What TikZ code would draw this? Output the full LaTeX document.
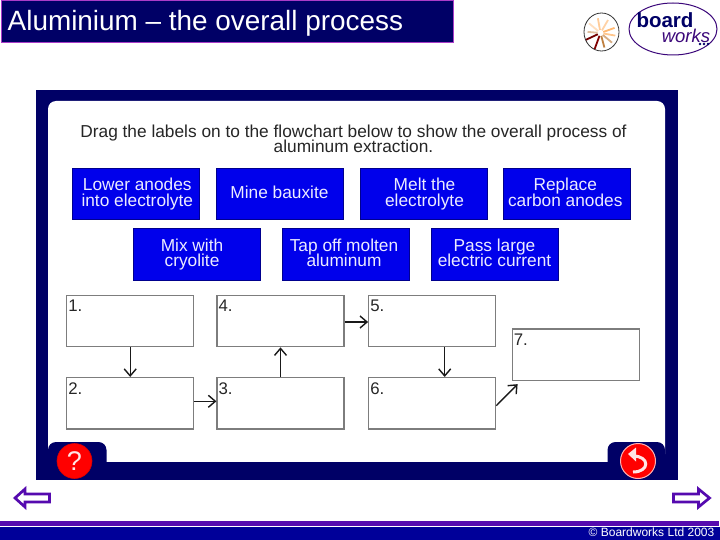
\documentclass[tikz,border=0pt]{standalone}
\usepackage{fontspec}
\setmainfont{Liberation Sans}
\usetikzlibrary{arrows.meta,calc}
\definecolor{navy1}{RGB}{0,0,102}
\definecolor{blue1}{RGB}{0,0,153}
\definecolor{purp}{RGB}{85,10,175}
\definecolor{mag}{RGB}{170,60,200}
\definecolor{btn}{RGB}{0,0,235}
\definecolor{gbox}{RGB}{125,125,125}
\newcommand{\lst}{\rule[-3.9pt]{0pt}{16.7pt}}
\AtBeginDocument{\lineskiplimit=-20pt\normallineskiplimit=-20pt\relax}
\tikzset{
 lbl/.style={draw=navy1!70!btn,line width=0.6pt,fill=btn,text=white!92!blue,minimum width=127pt,minimum height=51.5pt,inner sep=0pt,align=center,font=\fontsize{17.3}{15.3}\selectfont},
 slot/.style={draw=gbox,line width=1.2pt,fill=white,minimum width=127pt,minimum height=51.5pt,inner sep=0pt},
 slotnum/.style={inner sep=0pt,anchor=north west,font=\fontsize{16.8}{18}\selectfont,text=black!85},
 flow/.style={line width=1.4pt,black!90,-{Straight Barb[length=7pt,width=12pt,line width=1.4pt]}},
 navarrow/.style={draw=purp,line width=2.7pt,fill=white,miter limit=6},
}
\begin{document}
\begin{tikzpicture}[x=1pt,y=-1pt]
\useasboundingbox (0,0) rectangle (720,540);
\fill[white] (0,0) rectangle (720,540);
% title bar
\node[name=titlebar,draw=mag,line width=1pt,fill=navy1,minimum width=452.5pt,minimum height=41.5pt,inner sep=0pt,anchor=north west] at (0.5,0.5) {};
\node[name=titletext,anchor=base west,inner sep=0pt,text=white,font=\fontsize{27.9}{30}\selectfont] at (7.5,31) {Aluminium -- the overall process};
% logo
\draw[black!80,line width=0.8pt,fill=white] (601.5,32) ellipse (17.5pt and 19pt);
\foreach \a/\c/\l in {20/orange!55/12,60/orange!35/12,100/orange!40/12,140/orange!25/12,175/brown!50/10,205/red!45!black/13,250/red!50!black/14,285/brown/12,320/brown!65/12,350/orange!45/12}{
 \draw[\c,line width=1.8pt] (600.5,33) ++(\a:3pt) -- ++(\a:\l pt);
}
\draw[purp!70!black,line width=1pt] (673,29) ellipse (44pt and 26pt);
\node[name=logoa,anchor=base,inner sep=0pt,text=navy1,font=\fontsize{20.5}{20}\bfseries\selectfont] at (665,27.8) {board};
\node[name=logob,anchor=base,inner sep=0pt,text=purp!70!black,font=\fontsize{18.5}{20}\itshape\selectfont] at (686,42.5) {works};
\foreach \x in {700,704,708} \fill[navy1] (\x,44) circle (1.4pt);
% panel
\fill[navy1] (36,90) rectangle (678,480);
\fill[white,rounded corners=8pt] (48,101) rectangle (665,462);
% tabs
\fill[navy1] (36,462) rectangle (678,480);
\fill[navy1,rounded corners=8pt] (48,475) -- (48,442) -- (106.5,442) -- (106.5,475) -- cycle;
\fill[navy1,rounded corners=8pt] (607.5,475) -- (607.5,442) -- (665,442) -- (665,475) -- cycle;
\node[name=helpbtn,circle,fill=red,draw=red!85!black,line width=0.6pt,minimum size=35pt,inner sep=0pt,text=white!90!red,font=\fontsize{27}{27}\selectfont] at (74.5,461) {?};
\node[name=backbtn,circle,fill=red,draw=white!70!red,line width=1pt,minimum size=35pt,inner sep=0pt] at (638,461) {};
\draw[white!90!red,line width=3pt] (633,456) .. controls (650,456) and (650,472) .. (633,472);
\fill[white!90!red] (628,454) -- (636,447.5) -- (636,461.5) -- cycle;
% instruction
\node[name=instr,align=center,inner sep=0pt,text=black!85,font=\fontsize{17.3}{15}\selectfont] at (353.5,138.5) {Drag the labels on to the flowchart below to show the overall process of\\aluminum extraction.};
% labels
\node[lbl,name=l1] at (135.8,194) {\lst\hspace*{3pt}Lower anodes\\\lst\hspace*{3pt}into electrolyte};
\node[lbl,name=l2] at (279.5,194) {\lst Mine bauxite};
\node[lbl,name=l3] at (423.5,194) {\lst\hspace*{2pt}Melt the\\\lst\hspace*{2pt}electrolyte};
\node[lbl,name=l4] at (567,194) {\lst Replace\hspace*{3.5pt}\\\lst carbon anodes\hspace*{3.5pt}};
\node[lbl,name=l5] at (196.5,254.2) {\lst Mix with\hspace*{9pt}\\\lst cryolite\hspace*{9pt}};
\node[lbl,name=l6] at (345.5,254.2) {\lst Tap off molten\hspace*{3pt}\\\lst aluminum\hspace*{3pt}};
\node[lbl,name=l7] at (494.5,254.2) {\lst Pass large\\\lst electric current};
% slots
\node[slot,name=s1] at (130.2,321) {};
\node[slot,name=s2] at (130.2,403.3) {};
\node[slot,name=s3] at (280.5,403.3) {};
\node[slot,name=s4] at (280.5,321) {};
\node[slot,name=s5] at (432.2,321) {};
\node[slot,name=s6] at (432.2,403.3) {};
\node[slot,name=s7] at (575.7,354.8) {};
\foreach \s/\n in {s1/1,s2/2,s3/3,s4/4,s5/5,s6/6,s7/7}{
 \node[slotnum,name=n\n] at ([xshift=2pt,yshift=-5.4pt]\s.north west) {\n.};
}
% connectors
\draw[flow] (s1) -- (s2);
\draw[flow] ([yshift=2pt]s2.east) -- ([yshift=2pt]s3.west);
\draw[flow] (s3) -- (s4);
\draw[flow] ([yshift=-1pt]s4.east) -- ([yshift=-1pt]s5.west);
\draw[flow] ([xshift=12.5pt]s5.south) -- ([xshift=12.5pt]s6.north);
\draw[flow] ([yshift=-2.4pt]s6.east) -- ([xshift=6pt,yshift=-3pt]s7.south west);
% nav arrows
\draw[navarrow] (49.5,494) -- (49.5,502) -- (25,502) -- (25,507) -- (15,498) -- (25,489) -- (25,494) -- cycle;
\draw[navarrow] (673.5,494) -- (673.5,502) -- (698.5,502) -- (698.5,507) -- (709.5,498) -- (698.5,489) -- (698.5,494) -- cycle;
% footer
\fill[purp] (0,521) rectangle (719,526);
\fill[blue1] (0,527) rectangle (720,540);
\node[name=copy,anchor=base east,inner sep=0pt,text=white,font=\fontsize{12}{12}\selectfont] at (714.5,536.7) {© Boardworks Ltd 2003};
\end{tikzpicture}
\end{document}
